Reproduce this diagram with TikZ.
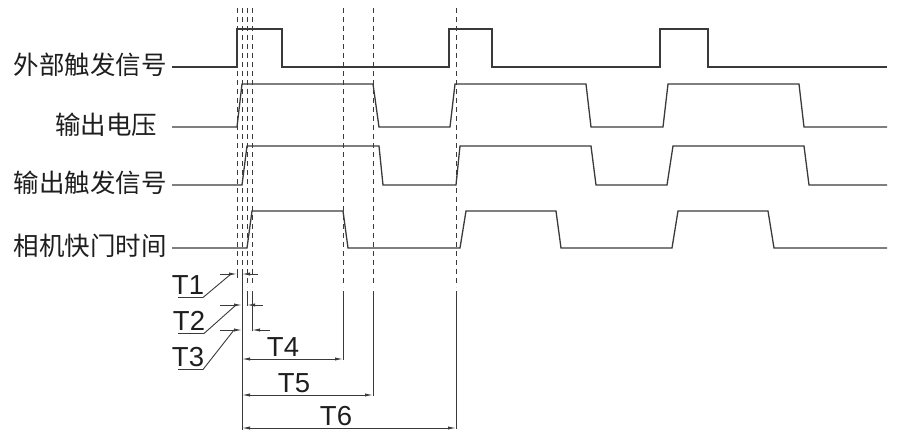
\documentclass[tikz,border=0pt]{standalone}
\usepackage{fontspec}
\setmainfont{Liberation Sans}
\newfontfamily\cjk{Noto Sans CJK SC}
\usetikzlibrary{arrows.meta}
\definecolor{wavec}{HTML}{3A3A3A}
\definecolor{textc}{HTML}{1E1E1E}
\begin{document}
\begin{tikzpicture}[x=1pt,y=-1pt,
  sig/.style={line width=1.3pt, draw=wavec, line join=miter},
  guide/.style={line width=0.8pt, draw=wavec, dash pattern=on 5pt off 4pt},
  ext/.style={line width=0.9pt, draw=wavec},
  dim/.style={line width=0.9pt, draw=wavec},
  tipr/.style={-{Latex[length=8pt,width=3.2pt]}},
  tipb/.style={{Latex[length=8pt,width=3.2pt]}-{Latex[length=8pt,width=3.2pt]}},
  lab/.style={inner sep=0pt, text=textc, font=\cjk\fontsize{25.5}{30}\selectfont},
  tl/.style={inner sep=0pt, text=textc, font=\fontsize{27.5}{30}\selectfont}]
\useasboundingbox (0,0) rectangle (900,436);

% labels
\node[lab, anchor=base east] (l1) at (167,74.5) {外部触发信号};
\node[lab, anchor=base east] (l2) at (157.5,134.5) {输出电压};
\node[lab, anchor=base east] (l3) at (167,192.5) {输出触发信号};
\node[lab, anchor=base east] (l4) at (167,255.5) {相机快门时间};

% waveforms
\draw[sig] (172,67) -- (237,67) -- (237,29) -- (282,29) -- (282,67) -- (449,67) -- (449,29) -- (492,29) -- (492,67) -- (660,67) -- (660,29) -- (708,29) -- (708,67) -- (887,67);
\draw[sig] (172,127) -- (237,127) -- (242,84) -- (373,84) -- (379,127) -- (450,127) -- (455,84) -- (586,84) -- (591,127) -- (663,127) -- (668,84) -- (799,84) -- (804,127) -- (887,127);
\draw[sig] (172,185) -- (242,185) -- (247,146) -- (379,146) -- (383,185) -- (456,185) -- (460,146) -- (591,146) -- (596,185) -- (667,185) -- (673,146) -- (804,146) -- (809,185) -- (887,185);
\draw[sig] (172,248) -- (247,248) -- (252,211) -- (343,211) -- (348,248) -- (460,248) -- (466,211) -- (556,211) -- (561,248) -- (672,248) -- (678,211) -- (768,211) -- (774,248) -- (887,248);

% guide lines
\coordinate (g1) at (237,8);
\coordinate (g2) at (242,8);
\coordinate (g3) at (247,8);
\coordinate (g4) at (252,8);
\coordinate (g5) at (343,8);
\coordinate (g6) at (373,8);
\coordinate (g7) at (456,8);
\draw[guide] (g1) -- (237,270);
\draw[guide] (g2) -- (242,270);
\draw[guide] (g3) -- (247,287);
\draw[guide] (g4) -- (252,287);
\draw[guide] (g5) -- (343,287);
\draw[guide] (g6) -- (373,287);
\draw[guide] (g7) -- (456,287);
\draw[ext] (237,270) -- (237,278);
\draw[ext] (242,270) -- (242,430);
\draw[ext] (247,291) -- (247,306);
\draw[ext] (252,291) -- (252,331);
\draw[ext] (343,291) -- (343,360);
\draw[ext] (373,291) -- (373,396);
\draw[ext] (456,291) -- (456,429);

% small interval arrows
\draw[dim,tipr] (220,274) -- (237,274);
\draw[dim,tipr] (258,274) -- (242,274);
\draw[dim,tipr] (220,305) -- (242,305);
\draw[dim,tipr] (263,305) -- (247,305);
\draw[dim,tipr] (220,330) -- (242,330);
\draw[dim,tipr] (270,330) -- (252,330);

% long interval arrows
\draw[dim,tipb] (242,359) -- (343,359);
\draw[dim,tipb] (242,395) -- (373,395);
\draw[dim,tipb] (242,428) -- (456,428);

% T labels
\node[tl, anchor=base] (t1) at (188,294.5) {T1};
\node[tl, anchor=base] (t2) at (189,330.5) {T2};
\node[tl, anchor=base] (t3) at (188,366) {T3};
\node[tl, anchor=base] (t4) at (283,356) {T4};
\node[tl, anchor=base] (t5) at (294,392) {T5};
\node[tl, anchor=base] (t6) at (336,425) {T6};

% leaders
\draw[dim] (178,297.5) -- (203,297.5) -- (231,274);
\draw[dim] (178,333.5) -- (204,333.5) -- (236,305);
\draw[dim] (178,369.5) -- (203,369.5) -- (234,330);
\end{tikzpicture}
\end{document}
